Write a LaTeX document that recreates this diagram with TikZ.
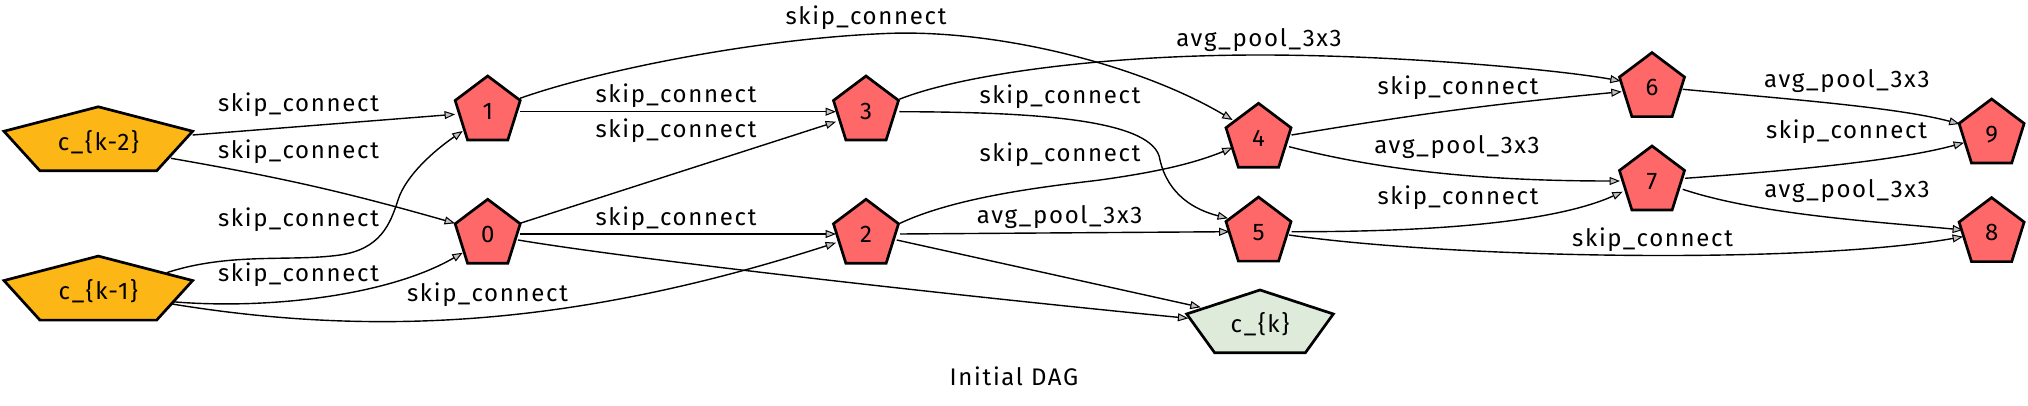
\documentclass[tikz,border=0pt]{standalone}
\usepackage{fontspec}
\setmainfont{Fira Sans}[LetterSpace=7]
\usetikzlibrary{arrows.meta,calc}

\definecolor{kyel}{RGB}{252,182,21}
\definecolor{nred}{RGB}{255,104,104}
\definecolor{kgreen}{RGB}{223,235,218}
\definecolor{agray}{RGB}{192,192,192}

\newcommand{\pent}[7]{%
  \coordinate (#1) at (#2,#3);
  \filldraw[pentline,fill=#6] ($(#1)+(0,-#5)$)
    -- ($(#1)+({0.951*#4},{-0.309*#5})$)
    -- ($(#1)+({0.588*#4},{0.809*#5})$)
    -- ($(#1)+({-0.588*#4},{0.809*#5})$)
    -- ($(#1)+({-0.951*#4},{-0.309*#5})$) -- cycle;
  \node[ntext] (#1t) at ($(#1)+(0,8)$) {#7};
}

\begin{document}
\begin{tikzpicture}[x=0.5pt,y=-0.5pt,
  pentline/.style={draw=black,line width=1.35pt},
  edge/.style={draw=black,line width=0.7pt,
    -{Triangle[length=5.2pt,width=4pt,fill=agray,line width=0.5pt]}},
  elabel/.style={inner sep=0pt,anchor=base,font=\fontsize{12}{14}\selectfont},
  ntext/.style={inner sep=0pt,anchor=base,font=\fontsize{12}{14}\selectfont}]
\useasboundingbox (0,0) rectangle (2028,406);

% nodes
\pent{k2}{98.3}{142.2}{99.2}{35.4}{kyel}{c\_\{k-2\}}
\pent{k1}{98.3}{291.5}{99.2}{35.4}{kyel}{c\_\{k-1\}}
\pent{n1}{487.7}{111.4}{34.2}{35.4}{nred}{1}
\pent{n0}{487.7}{234.7}{34.2}{35.4}{nred}{0}
\pent{n3}{866}{111.4}{34.2}{35.4}{nred}{3}
\pent{n2}{866}{234.7}{34.2}{35.4}{nred}{2}
\pent{n4}{1258.5}{138.7}{34.2}{35.4}{nred}{4}
\pent{n5}{1258.5}{232.5}{34.2}{35.4}{nred}{5}
\pent{ck}{1260}{324.7}{77.1}{34.7}{kgreen}{c\_\{k\}}
\pent{n6}{1652}{88}{34.2}{35.4}{nred}{6}
\pent{n7}{1652}{181.4}{34.2}{35.4}{nred}{7}
\pent{n9}{1991.6}{134.4}{34.2}{35.4}{nred}{9}
\pent{n8}{1991.6}{233}{34.2}{35.4}{nred}{8}

% edges
\draw[edge] ($(k2)+(94.4,-7.2)$) -- ($(n1)+(-32.7,2.9)$);
\draw[edge] ($(k2)+(72.7,16.1)$) to[bend left=3] ($(n0)+(-32.7,-11.4)$);
\draw[edge] ($(k1)+(68.4,-18.8)$) .. controls (230,252) and (290,262) .. (340,255)
   .. controls (380,249) and (390,225) .. (398,200)
   .. controls (406,175) and (435,150) .. ($(n1)+(-25,19.6)$);
\draw[edge] ($(k1)+(73.7,10.2)$) .. controls (270,310) and (390,295) .. ($(n0)+(-25,18)$);
\draw[edge] ($(k1)+(73.7,12.5)$) .. controls (380,338) and (580,325) .. ($(n2)+(-30,8)$);
\draw[edge] ($(n1)+(32.5,0.3)$) -- ($(n3)+(-30,0.3)$);
\draw[edge] ($(n1)+(32.3,-13.1)$) .. controls (600,70) and (760,38) .. (891,33.3)
   .. controls (1000,30) and (1140,65) .. ($(n4)+(-25.9,-18.7)$);
\draw[edge] ($(n0)+(32.3,-11.4)$) -- ($(n3)+(-30,10.3)$);
\draw[edge] ($(n0)+(32.3,-0.7)$) -- ($(n2)+(-30,-0.7)$);
\draw[edge] ($(n0)+(30.3,5.3)$) .. controls (650,262) and (1000,300) .. ($(ck)+(-71.7,-6.4)$);
\draw[edge] ($(n3)+(33.3,-12.1)$) .. controls (960,75) and (1100,55) .. (1260,55)
   .. controls (1400,55) and (1560,70) .. ($(n6)+(-31.3,-7)$);
\draw[edge] ($(n3)+(33.3,0.3)$) .. controls (1040,112) and (1155,120) .. (1160,160)
   .. controls (1168,195) and (1195,210) .. ($(n5)+(-30.5,-14.2)$);
\draw[edge] ($(n2)+(34,-11.4)$) .. controls (960,195) and (1060,185) .. (1100,180)
   .. controls (1150,173) and (1190,165) .. ($(n4)+(-25.9,9)$);
\draw[edge] ($(n2)+(34,-0.7)$) -- ($(n5)+(-29,-0.8)$);
\draw[edge] ($(n2)+(30.7,5.3)$) -- ($(ck)+(-59.3,-17.4)$);
\draw[edge] ($(n4)+(33,-3.7)$) to[bend left=2] ($(n6)+(-30.3,3.7)$);
\draw[edge] ($(n4)+(30.5,8)$) .. controls (1380,170) and (1480,181) .. ($(n7)+(-32,-0.4)$);
\draw[edge] ($(n5)+(33,-0.8)$) .. controls (1450,232) and (1560,220) .. ($(n7)+(-29.3,10.3)$);
\draw[edge] ($(n5)+(30.5,2.5)$) .. controls (1450,258) and (1800,265) .. ($(n8)+(-28.6,3.7)$);
\draw[edge] ($(n6)+(30.7,1.3)$) .. controls (1800,100) and (1900,108) .. ($(n9)+(-32,-10.4)$);
\draw[edge] ($(n7)+(33,-3.1)$) .. controls (1800,170) and (1900,160) .. ($(n9)+(-27.6,8.3)$);
\draw[edge] ($(n7)+(30.7,7.9)$) .. controls (1760,215) and (1880,222) .. ($(n8)+(-28.6,-3)$);

% edge labels
\node[elabel] (l1) at (298.5,111.5) {skip\_connect};
\node[elabel] (l2) at (298.5,158.5) {skip\_connect};
\node[elabel] (l3) at (298.5,226.5) {skip\_connect};
\node[elabel] (l4) at (298.5,281) {skip\_connect};
\node[elabel] (l5) at (487.5,301.5) {skip\_connect};
\node[elabel] (l6) at (676,102.5) {skip\_connect};
\node[elabel] (l7) at (676,137.5) {skip\_connect};
\node[elabel] (l8) at (676,226) {skip\_connect};
\node[elabel] (l9) at (866,25) {skip\_connect};
\node[elabel] (l10) at (1259,47) {avg\_pool\_3x3};
\node[elabel] (l11) at (1060,104) {skip\_connect};
\node[elabel] (l12) at (1060,161.5) {skip\_connect};
\node[elabel] (l13) at (1059.6,224) {avg\_pool\_3x3};
\node[elabel] (l14) at (1458,95) {skip\_connect};
\node[elabel] (l15) at (1457,154) {avg\_pool\_3x3};
\node[elabel] (l16) at (1458,205) {skip\_connect};
\node[elabel] (l17) at (1652.6,247) {skip\_connect};
\node[elabel] (l18) at (1846.8,87.5) {avg\_pool\_3x3};
\node[elabel] (l19) at (1846.5,139) {skip\_connect};
\node[elabel] (l20) at (1847,198) {avg\_pool\_3x3};

\node[elabel] (title) at (1014,385) {Initial DAG};
\end{tikzpicture}
\end{document}
